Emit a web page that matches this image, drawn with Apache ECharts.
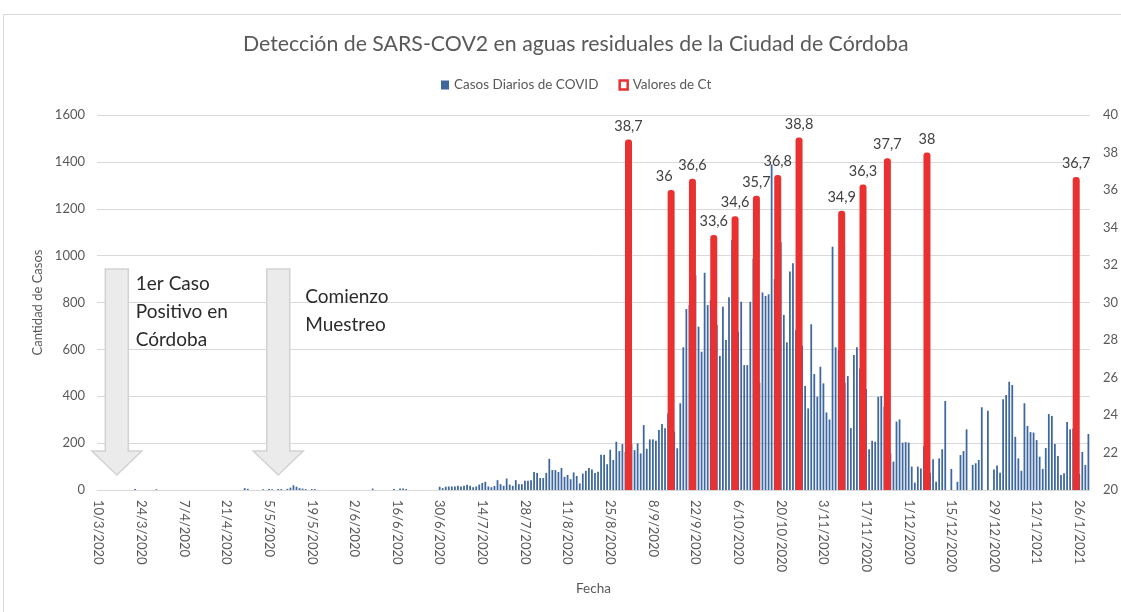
<!DOCTYPE html>
<html>
<head>
<meta charset="utf-8">
<script src="https://cdn.jsdelivr.net/npm/echarts@6/dist/echarts.min.js"></script>
<style>
  html, body { margin: 0; padding: 0; background: #fff; }
  #chart { width: 1121px; height: 612px; }
</style>
</head>
<body>
<div id="chart"></div>
<script>
// fechas diarias: 10/3/2020 .. 29/1/2021
const startDate = Date.UTC(2020, 2, 10)
const dayCount = 326
const dates = []
for (let i = 0; i < dayCount; i++) {
  const d = new Date(startDate + i * 86400000)
  dates.push(d.getUTCDate() + '/' + (d.getUTCMonth() + 1) + '/' + d.getUTCFullYear())
}

// casos diarios de COVID (uno por fecha)
const dailyCases = [
  0, 0, 0, 0, 0, 0, 0, 0, 0, 0,
  0, 0, 4, 0, 0, 0, 0, 0, 0, 3,
  0, 0, 0, 0, 0, 0, 0, 0, 0, 0,
  0, 0, 0, 0, 0, 0, 0, 0, 0, 0,
  0, 0, 0, 0, 0, 0, 0, 0, 8, 5,
  0, 0, 0, 0, 3, 0, 4, 3, 0, 4,
  4, 0, 5, 10, 20, 14, 8, 6, 4, 0,
  4, 4, 0, 0, 0, 0, 0, 0, 0, 0,
  0, 0, 0, 0, 0, 0, 0, 0, 0, 0,
  6, 0, 0, 0, 0, 0, 0, 4, 0, 6,
  6, 4, 0, 0, 0, 0, 0, 0, 0, 0,
  0, 0, 14, 8, 14, 15, 15, 15, 18, 15,
  18, 22, 18, 12, 15, 23, 30, 35, 15, 12,
  17, 42, 25, 18, 49, 23, 18, 42, 25, 25,
  40, 40, 42, 77, 73, 51, 51, 73, 133, 85,
  85, 77, 94, 56, 64, 46, 75, 60, 28, 70,
  82, 94, 88, 73, 78, 150, 150, 110, 172, 128,
  206, 166, 196, 163, 180, 196, 170, 199, 156, 277,
  176, 216, 216, 210, 256, 282, 263, 326, 230, 249,
  178, 370, 609, 772, 789, 700, 917, 697, 590, 927,
  789, 811, 620, 704, 572, 782, 640, 822, 1067, 780,
  675, 803, 533, 533, 803, 988, 840, 458, 843, 828,
  835, 1389, 900, 1000, 1057, 747, 630, 932, 967, 683,
  620, 616, 444, 348, 707, 495, 398, 526, 455, 331,
  301, 1038, 609, 597, 600, 458, 486, 264, 576, 609,
  518, 450, 431, 174, 210, 206, 398, 401, 356, 250,
  156, 121, 292, 301, 202, 204, 202, 100, 31, 100,
  92, 187, 100, 74, 131, 35, 135, 174, 380, 0,
  90, 0, 35, 149, 166, 259, 0, 107, 114, 128,
  353, 0, 338, 0, 88, 105, 74, 387, 405, 462,
  448, 227, 135, 82, 370, 273, 247, 245, 213, 142,
  90, 179, 324, 316, 196, 145, 64, 71, 290, 259,
  263, 100, 68, 162, 107, 239
]

// valores de Ct del muestreo semanal
const ctDates = ['31/8/2020', '14/9/2020', '21/9/2020', '28/9/2020', '5/10/2020', '12/10/2020',
  '19/10/2020', '26/10/2020', '9/11/2020', '16/11/2020', '24/11/2020', '7/12/2020', '25/1/2021']
const ctValues = [38.7, 36, 36.6, 33.6, 34.6, 35.7, 36.8, 38.8, 34.9, 36.3, 37.7, 38, 36.7]

// flechas de anotación
const notes = [
  { date: '16/3/2020', text: '1er Caso\nPositivo en\nCórdoba', dx: 19, top: 270 },
  { date: '8/5/2020', text: 'Comienzo\nMuestreo', dx: 27, top: 283 }
]

const FONT = 'Lato, "Noto Sans", sans-serif'
const GREY = '#595959'
const BLUE = '#3d679e'
const RED = '#e93131'

const chart = echarts.init(document.getElementById('chart'))

const option = {
  animation: false,
  textStyle: { fontFamily: FONT },
  title: {
    text: 'Detección de SARS-COV2 en aguas residuales de la Ciudad de Córdoba',
    left: 238,
    top: 29,
    textStyle: { fontFamily: FONT, fontSize: 21.3, fontWeight: 'normal', color: GREY }
  },
  legend: {
    top: 73,
    left: 436,
    itemWidth: 8,
    itemHeight: 9,
    itemGap: 20,
    textStyle: { fontFamily: FONT, fontSize: 13.5, color: GREY },
    data: [
      { name: 'Casos Diarios de COVID', icon: 'rect' },
      { name: 'Valores de Ct', icon: 'rect', itemStyle: { color: '#fff', borderColor: RED, borderWidth: 2.5 } }
    ]
  },
  grid: { left: 97, right: 28, top: 115, bottom: 122 },
  xAxis: [
    {
      type: 'category',
      data: dates,
      name: 'Fecha',
      nameLocation: 'middle',
      nameGap: 92,
      nameTextStyle: { fontFamily: FONT, fontSize: 13.5, color: GREY },
      axisLine: { lineStyle: { color: '#d9d9d9', width: 1 } },
      axisTick: { show: false },
      axisLabel: { interval: 13, rotate: -90, margin: 10, fontFamily: FONT, fontSize: 13, color: GREY }
    },
    {
      type: 'category',
      data: dates,
      show: false
    }
  ],
  yAxis: [
    {
      type: 'value',
      min: 0,
      max: 1600,
      interval: 200,
      name: 'Cantidad de Casos',
      nameLocation: 'middle',
      nameGap: 51,
      nameRotate: 90,
      nameTextStyle: { fontFamily: FONT, fontSize: 13, color: GREY },
      axisLine: { show: false },
      axisTick: { show: false },
      axisLabel: { margin: 12, fontFamily: FONT, fontSize: 13, color: GREY, formatter: v => String(v) },
      splitLine: { lineStyle: { color: '#d9d9d9', width: 1 } }
    },
    {
      type: 'value',
      min: 20,
      max: 40,
      interval: 2,
      position: 'right',
      axisLine: { show: false },
      axisTick: { show: false },
      splitLine: { show: false },
      axisLabel: { margin: 13, fontFamily: FONT, fontSize: 13, color: GREY }
    }
  ],
  series: [
    {
      name: 'Casos Diarios de COVID',
      type: 'bar',
      xAxisIndex: 0,
      yAxisIndex: 0,
      barWidth: '58%',
      itemStyle: { color: BLUE },
      data: dailyCases,
      z: 2
    },
    {
      name: 'Valores de Ct',
      type: 'bar',
      xAxisIndex: 1,
      yAxisIndex: 1,
      barWidth: 7,
      itemStyle: { color: RED, borderRadius: [3, 3, 0, 0] },
      label: {
        show: true,
        position: 'top',
        distance: 6,
        fontFamily: FONT,
        fontSize: 14.5,
        color: '#404040',
        formatter: p => String(p.value[1]).replace('.', ',')
      },
      // la etiqueta "36" va corrida a la izquierda para no pisar "36,6"
      data: ctDates.map((d, i) => i === 1
        ? { value: [d, ctValues[i]], label: { offset: [-7, 0] } }
        : [d, ctValues[i]]),
      z: 5
    }
  ]
}

chart.setOption(option)

// marco, flechas grises y textos
const graphics = [
  {
    type: 'rect',
    shape: { x: 3.5, y: 14.5, width: 1300, height: 800 },
    style: { fill: 'none', stroke: '#d9d9d9', lineWidth: 1 },
    silent: true,
    z: 0
  }
]
notes.forEach(n => {
  const tx = chart.convertToPixel({ xAxisIndex: 0 }, n.date)
  const tipY = 475
  const headY = 451
  const topY = 269
  graphics.push({
    type: 'polygon',
    shape: {
      points: [
        [tx - 11.5, topY], [tx + 11.5, topY], [tx + 11.5, headY], [tx + 25, headY],
        [tx, tipY], [tx - 25, headY], [tx - 11.5, headY]
      ]
    },
    style: { fill: '#ebebeb', stroke: '#d2d2d2', lineWidth: 1.5 },
    z: 10
  })
  graphics.push({
    type: 'text',
    x: tx + n.dx,
    y: n.top,
    style: {
      text: n.text,
      fontFamily: FONT,
      fontSize: 19,
      lineHeight: 28,
      fill: '#2b2b2b'
    },
    z: 11
  })
})
chart.setOption({ graphic: graphics })
</script>
</body>
</html>
